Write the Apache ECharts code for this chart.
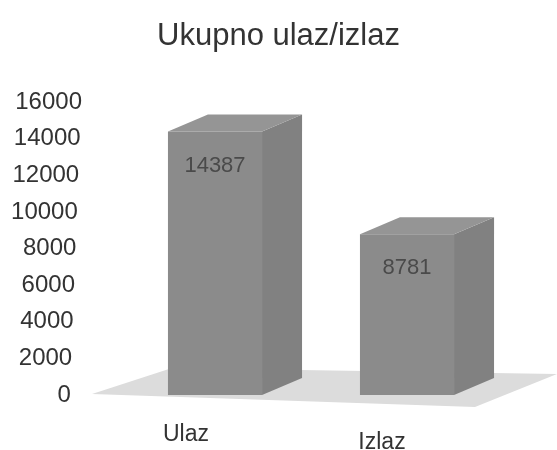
<!DOCTYPE html>
<html>
<head>
<meta charset="utf-8">
<script src="https://cdn.jsdelivr.net/npm/echarts@6/dist/echarts.min.js"></script>
<style>html,body{margin:0;padding:0;background:#fff}#c{width:557px;height:450px}</style>
</head>
<body>
<div id="c"></div>
<script>
const categories = ['Ulaz', 'Izlaz'];
const values = [14387, 8781];
const yTicks = [0, 2000, 4000, 6000, 8000, 10000, 12000, 14000, 16000];
const titleText = 'Ukupno ulaz/izlaz';

const FONT = '"Liberation Sans", Arial, sans-serif';
const chart = echarts.init(document.getElementById('c'), null, {renderer: 'canvas'});

const yRich = {};
yTicks.forEach((t, i) => {
  yRich['p' + i] = {fontSize: 24, color: '#333', fontFamily: FONT, padding: [0, (yTicks.length - 1 - i) * 1.4, 0, 0]};
});

const option = {
  backgroundColor: '#fff',
  animation: false,
  title: {
    text: titleText, left: 'center', top: 16,
    textStyle: {fontSize: 31, fontWeight: 'normal', color: '#333', fontFamily: FONT}
  },
  grid: {left: 119, right: 54, top: 102, bottom: 55, containLabel: false, outerBoundsMode: 'none'},
  xAxis: {
    type: 'category', data: categories,
    axisLine: {show: false}, axisTick: {show: false}, splitLine: {show: false},
    axisLabel: {
      margin: 27,
      formatter: (v, i) => '{c' + i + '|' + v + '}',
      rich: {
        c0: {fontSize: 23, color: '#333', fontFamily: FONT, lineHeight: 26, padding: [0, 58, 0, 0]},
        c1: {fontSize: 23, color: '#333', fontFamily: FONT, lineHeight: 26, padding: [16, 50, 0, 0]}
      }
    }
  },
  yAxis: {
    type: 'value', min: 0, max: yTicks[yTicks.length - 1], interval: 2000,
    axisLine: {show: false}, axisTick: {show: false}, splitLine: {show: false},
    axisLabel: {
      margin: 37,
      formatter: (v) => '{p' + yTicks.indexOf(v) + '|' + v + '}',
      rich: yRich
    }
  },
  series: [
    {
      type: 'custom', z: 1, silent: true,
      data: [[0, 0]],
      renderItem: (params, api) => {
        const cs = params.coordSys;
        const b = cs.y + cs.height;
        return {
          type: 'polygon',
          shape: {points: [
            [cs.x - 27, b - 1], [cs.x + 53, b - 27],
            [cs.x + cs.width + 54, b - 21], [cs.x + cs.width - 28, b + 12]
          ]},
          style: {fill: '#dcdcdc'}
        };
      }
    },
    {
      type: 'custom', z: 2,
      data: values.map((v, i) => [i, v]),
      encode: {x: 0, y: 1},
      renderItem: (params, api) => {
        const i = api.value(0), v = api.value(1);
        const base = api.coord([i, 0]);
        const top = api.coord([i, v]);
        const bw = api.size([1, 0])[0] * 0.49;
        const x0 = base[0] - bw / 2, x1 = base[0] + bw / 2;
        const dx = 40, dy = -17;
        return {
          type: 'group',
          children: [
            {type: 'polygon', shape: {points: [[x1, top[1]], [x1 + dx, top[1] + dy], [x1 + dx, base[1] + dy], [x1, base[1]]]},
             style: {fill: '#818181'}},
            {type: 'polygon', shape: {points: [[x0, top[1]], [x0 + dx, top[1] + dy], [x1 + dx, top[1] + dy], [x1, top[1]]]},
             style: {fill: '#959595'}},
            {type: 'rect', shape: {x: x0, y: top[1], width: bw, height: base[1] - top[1]},
             style: {fill: '#8b8b8b'}},
            {type: 'text', x: base[0], y: top[1] + 34,
             style: {text: String(v), fill: '#4a4a4a', fontSize: 22, fontFamily: FONT, align: 'center', verticalAlign: 'middle'}}
          ]
        };
      }
    }
  ]
};
chart.setOption(option);
</script>
</body>
</html>
